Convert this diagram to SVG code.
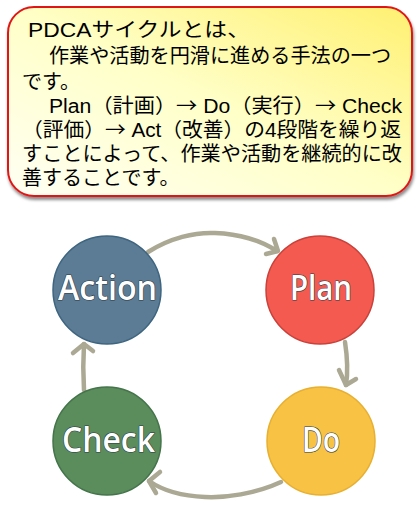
<svg xmlns="http://www.w3.org/2000/svg" width="420" height="507" viewBox="0 0 420 507">
<defs>
<linearGradient id="bg" x1="0" y1="1" x2="1" y2="0">
<stop offset="0" stop-color="#fffff4"/>
<stop offset="0.5" stop-color="#ffffc8"/>
<stop offset="1" stop-color="#fff070"/>
</linearGradient>
<filter id="sh" x="-5%" y="-5%" width="110%" height="115%">
<feDropShadow dx="1" dy="3" stdDeviation="1.5" flood-color="#000" flood-opacity="0.45"/>
</filter>
<style>
.t{font-family:"Liberation Sans","Noto Sans CJK JP",sans-serif;font-size:20px;fill:#000}
.a{font-family:"Noto Sans CJK JP",sans-serif}
.n{font-family:"Open Sans","DejaVu Sans",sans-serif;font-weight:600;font-size:34px;fill:#fff;stroke:#2a3a44;stroke-width:1.2;paint-order:stroke;text-anchor:middle;stroke-linejoin:round}
.c{fill:none;stroke:#aba893;stroke-width:4.5;stroke-linecap:round;stroke-linejoin:round}
</style>
</defs>
<g id="box">
<rect x="8" y="7" width="404" height="189" rx="26" ry="26" fill="url(#bg)" stroke="#e01818" stroke-width="2" filter="url(#sh)"/>
<text class="t" x="28" y="37" textLength="222" lengthAdjust="spacingAndGlyphs">PDCAサイクルとは、</text>
<text class="t" x="49" y="63" textLength="342" lengthAdjust="spacingAndGlyphs">作業や活動を円滑に進める手法の一つ</text>
<text class="t" x="22" y="89">です。</text>
<text class="t" x="49" y="113" textLength="353" lengthAdjust="spacingAndGlyphs">Plan（計画）<tspan class="a">→</tspan> Do（実行）<tspan class="a">→</tspan> Check</text>
<text class="t" x="22" y="137" textLength="379" lengthAdjust="spacingAndGlyphs">（評価）<tspan class="a">→</tspan> Act（改善）の4段階を繰り返</text>
<text class="t" x="22" y="161" textLength="380" lengthAdjust="spacingAndGlyphs">すことによって、作業や活動を継続的に改</text>
<text class="t" x="22" y="185">善することです。</text>
</g>
<g id="connectors">
<path class="c" d="M148,252 C170,238 195,232 215,233 C240,234 260,240 277,251"/>
<path class="c" d="M274,239 L278,251 L266,254"/>
<path class="c" d="M345,342 C347,355 348,372 346,385"/>
<path class="c" d="M339,370 L346,385 L356,379"/>
<path class="c" d="M281,482 C255,494 225,498 205,497 C180,496 162,490 149,481"/>
<path class="c" d="M160,472 L149,481 L156,493"/>
<path class="c" d="M84,390 C83,375 83,360 84,344"/>
<path class="c" d="M73,353 L84,344 L93,351"/>
</g>
<g id="action">
<circle cx="107" cy="290" r="54" fill="#5b7c94" stroke="#3e6580" stroke-width="1.5"/>
<text class="n" x="107.5" y="300" textLength="99" lengthAdjust="spacingAndGlyphs">Action</text>
</g>
<g id="plan">
<circle cx="320" cy="290" r="54" fill="#f55a50" stroke="#c8423b" stroke-width="1.5"/>
<text class="n" x="321" y="300" textLength="62" lengthAdjust="spacingAndGlyphs">Plan</text>
</g>
<g id="check">
<circle cx="107" cy="441" r="54" fill="#5a8c5c" stroke="#44744a" stroke-width="1.5"/>
<text class="n" x="108.5" y="452" textLength="93" lengthAdjust="spacingAndGlyphs">Check</text>
</g>
<g id="do">
<circle cx="321" cy="441" r="54" fill="#f8c245" stroke="#e8b030" stroke-width="1.5"/>
<text class="n" x="321" y="452" textLength="38" lengthAdjust="spacingAndGlyphs">Do</text>
</g>
</svg>
